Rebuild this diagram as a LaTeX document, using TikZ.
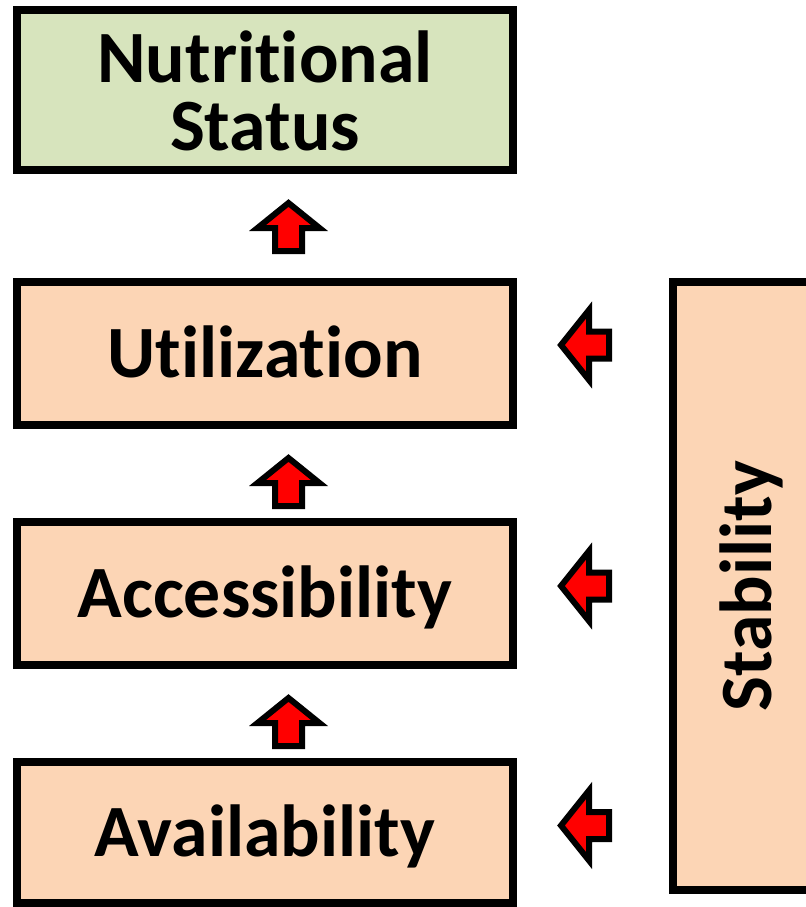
\documentclass[tikz,border=0pt]{standalone}
\usepackage{fontspec}
\setmainfont{Carlito}[RawFeature={-liga;-clig;-dlig}]
\definecolor{boxgreen}{HTML}{D7E4BD}
\definecolor{boxpeach}{HTML}{FCD5B5}
\begin{document}
\begin{tikzpicture}[x=1bp,y=-1bp,
  txt/.style={font=\fontsize{74}{68}\selectfont\bfseries},
  box/.style={txt, draw=black, line width=8bp, inner sep=0pt, outer sep=0pt,
    text height=48bp, text depth=0bp, minimum width=496bp},
  lbl/.style={txt, inner sep=0pt, outer sep=0pt},
  blockarrow/.style={draw=black, fill=red, line width=6bp, line join=miter}]
\clip (0,0) rectangle (806,907);
\fill[white] (0,0) rectangle (806,907);
% boxes
\node[box, fill=boxgreen, minimum height=160bp] (ns) at (265,90) {};
\node[lbl, anchor=base] (nsa) at (265,82) {Nutrit\kern0pt ional};
\node[lbl, anchor=base] (nsb) at (265,150) {Status};
\node[box, fill=boxpeach, minimum height=143bp] (util) at (265,353.5) {Utilizat\kern0pt ion};
\node[box, fill=boxpeach, minimum height=143bp] (acc) at (265,593.5) {Accessibility};
\node[box, fill=boxpeach, minimum height=141bp] (avail) at (265,832.5) {Availability};
\node[box, fill=boxpeach, rotate=90, minimum width=608bp, minimum height=149bp] (stab) at (747.5,586) {Stability};
% upward block arrows
\foreach \t in {203,458,698}
  \draw[blockarrow] (288.5,\t) -- ++(31,25) -- ++(-17.5,0) -- ++(0,23) -- ++(-27,0)
    -- ++(0,-23) -- ++(-17.5,0) -- cycle;
% leftward block arrows
\foreach \c in {345,586,825.5}
  \draw[blockarrow] (561,\c) -- ++(28,-35) -- ++(0,21.5) -- ++(20,0) -- ++(0,27)
    -- ++(-20,0) -- ++(0,21.5) -- cycle;
\end{tikzpicture}
\end{document}
